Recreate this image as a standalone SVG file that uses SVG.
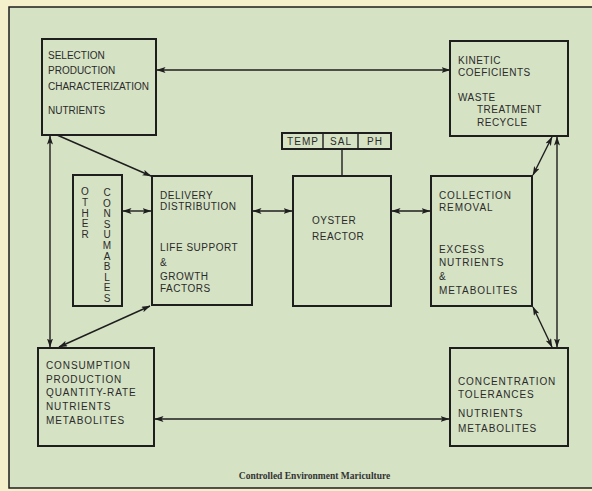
<svg xmlns="http://www.w3.org/2000/svg" width="592" height="491" viewBox="0 0 592 491">
<style>
.box{fill:none;stroke:#1e1e1e;stroke-width:2}
.t{font-family:"Liberation Sans",Arial,sans-serif;font-size:10px;fill:#2a2a2a;letter-spacing:0.5px}
.t0{letter-spacing:0}
.t1{letter-spacing:0.9px}
.v{text-anchor:middle;letter-spacing:0}
.s{font-size:10px;letter-spacing:1px;text-anchor:middle}
.c{stroke:#1e1e1e;stroke-width:1.4;fill:none}
.cap{font-family:"Liberation Serif","Times New Roman",serif;font-size:9.5px;font-weight:bold;fill:#333;text-anchor:middle}
</style>
<defs>
<marker id="ah" markerWidth="9" markerHeight="6" refX="8.5" refY="3" orient="auto-start-reverse" markerUnits="userSpaceOnUse">
<path d="M0,0 L9,3 L0,6 L2,3 z" fill="#1e1e1e"/>
</marker>
</defs>
<rect x="0" y="0" width="592" height="491" fill="#f4f0cb"/>
<rect x="9" y="7" width="600" height="481" fill="#d5e2c4" stroke="#1e1e1e" stroke-width="1.5"/>

<g id="connectors">
<line class="c" x1="157" y1="70" x2="450" y2="70" marker-start="url(#ah)" marker-end="url(#ah)"/>
<line class="c" x1="50" y1="136" x2="50" y2="347" marker-start="url(#ah)" marker-end="url(#ah)"/>
<line class="c" x1="57" y1="135" x2="151" y2="176" marker-end="url(#ah)"/>
<line class="c" x1="150" y1="306" x2="59" y2="347" marker-start="url(#ah)" marker-end="url(#ah)"/>
<line class="c" x1="123" y1="211" x2="151" y2="211" marker-start="url(#ah)" marker-end="url(#ah)"/>
<line class="c" x1="253" y1="211" x2="292" y2="211" marker-start="url(#ah)" marker-end="url(#ah)"/>
<line class="c" x1="392" y1="211" x2="430" y2="211" marker-start="url(#ah)" marker-end="url(#ah)"/>
<line class="c" x1="342" y1="149" x2="342" y2="176"/>
<line class="c" x1="552" y1="137" x2="533" y2="175" marker-start="url(#ah)" marker-end="url(#ah)"/>
<line class="c" x1="557" y1="137" x2="557" y2="347" marker-start="url(#ah)" marker-end="url(#ah)"/>
<line class="c" x1="533" y1="307" x2="552" y2="347" marker-start="url(#ah)" marker-end="url(#ah)"/>
<line class="c" x1="155" y1="419" x2="449" y2="419" marker-start="url(#ah)" marker-end="url(#ah)"/>
</g>

<g id="selection">
<rect class="box" x="42" y="39" width="114" height="96"/>
<text class="t t0" x="48" y="59">SELECTION</text>
<text class="t t0" x="48" y="74">PRODUCTION</text>
<text class="t t0" x="48" y="90">CHARACTERIZATION</text>
<text class="t t0" x="48" y="114">NUTRIENTS</text>
</g>

<g id="kinetic">
<rect class="box" x="450" y="41" width="118" height="95"/>
<text class="t" x="458" y="64">KINETIC</text>
<text class="t" x="458" y="76">COEFICIENTS</text>
<text class="t" x="458" y="101">WASTE</text>
<text class="t" x="477" y="113">TREATMENT</text>
<text class="t" x="477" y="126">RECYCLE</text>
</g>

<g id="sensors">
<rect class="box" x="282" y="133" width="109" height="16" stroke-width="1.8"/>
<line class="c" x1="323" y1="133" x2="323" y2="149" stroke-width="1.8"/>
<line class="c" x1="358" y1="133" x2="358" y2="149" stroke-width="1.8"/>
<text class="t s" x="303" y="145">TEMP</text>
<text class="t s" x="341" y="145">SAL</text>
<text class="t s" x="375" y="145">PH</text>
</g>

<g id="other-consumables">
<rect class="box" x="73" y="175" width="49" height="131"/>
<text class="t v" x="85" y="195.3"><tspan x="85">O</tspan><tspan x="85" dy="10.6">T</tspan><tspan x="85" dy="10.6">H</tspan><tspan x="85" dy="10.6">E</tspan><tspan x="85" dy="10.6">R</tspan></text>
<text class="t v" x="107" y="195.9"><tspan x="107">C</tspan><tspan x="107" dy="10.6">O</tspan><tspan x="107" dy="10.6">N</tspan><tspan x="107" dy="10.6">S</tspan><tspan x="107" dy="10.6">U</tspan><tspan x="107" dy="10.6">M</tspan><tspan x="107" dy="10.6">A</tspan><tspan x="107" dy="10.6">B</tspan><tspan x="107" dy="10.6">L</tspan><tspan x="107" dy="10.6">E</tspan><tspan x="107" dy="10.6">S</tspan></text>
</g>

<g id="delivery">
<rect class="box" x="152" y="176" width="100" height="129"/>
<text class="t" x="160" y="199">DELIVERY</text>
<text class="t" x="160" y="210">DISTRIBUTION</text>
<text class="t" x="160" y="251">LIFE SUPPORT</text>
<text class="t" x="160" y="266">&amp;</text>
<text class="t" x="160" y="280">GROWTH</text>
<text class="t" x="160" y="292">FACTORS</text>
</g>

<g id="reactor">
<rect class="box" x="293" y="176" width="98" height="130"/>
<text class="t" x="312" y="224">OYSTER</text>
<text class="t" x="312" y="240">REACTOR</text>
</g>

<g id="collection">
<rect class="box" x="431" y="176" width="101" height="130"/>
<text class="t t1" x="439" y="199">COLLECTION</text>
<text class="t t1" x="439" y="211">REMOVAL</text>
<text class="t t1" x="439" y="253">EXCESS</text>
<text class="t t1" x="439" y="266">NUTRIENTS</text>
<text class="t t1" x="439" y="280">&amp;</text>
<text class="t t1" x="439" y="294">METABOLITES</text>
</g>

<g id="consumption">
<rect class="box" x="38" y="348" width="116" height="98"/>
<text class="t t1" x="46" y="369">CONSUMPTION</text>
<text class="t t1" x="46" y="383">PRODUCTION</text>
<text class="t t1" x="46" y="396">QUANTITY-RATE</text>
<text class="t t1" x="46" y="410">NUTRIENTS</text>
<text class="t t1" x="46" y="424">METABOLITES</text>
</g>

<g id="concentration">
<rect class="box" x="450" y="348" width="118" height="98"/>
<text class="t t1" x="458" y="385">CONCENTRATION</text>
<text class="t t1" x="458" y="398">TOLERANCES</text>
<text class="t t1" x="458" y="417">NUTRIENTS</text>
<text class="t t1" x="458" y="432">METABOLITES</text>
</g>

<text class="cap" x="314.5" y="479">Controlled Environment Mariculture</text>
</svg>
